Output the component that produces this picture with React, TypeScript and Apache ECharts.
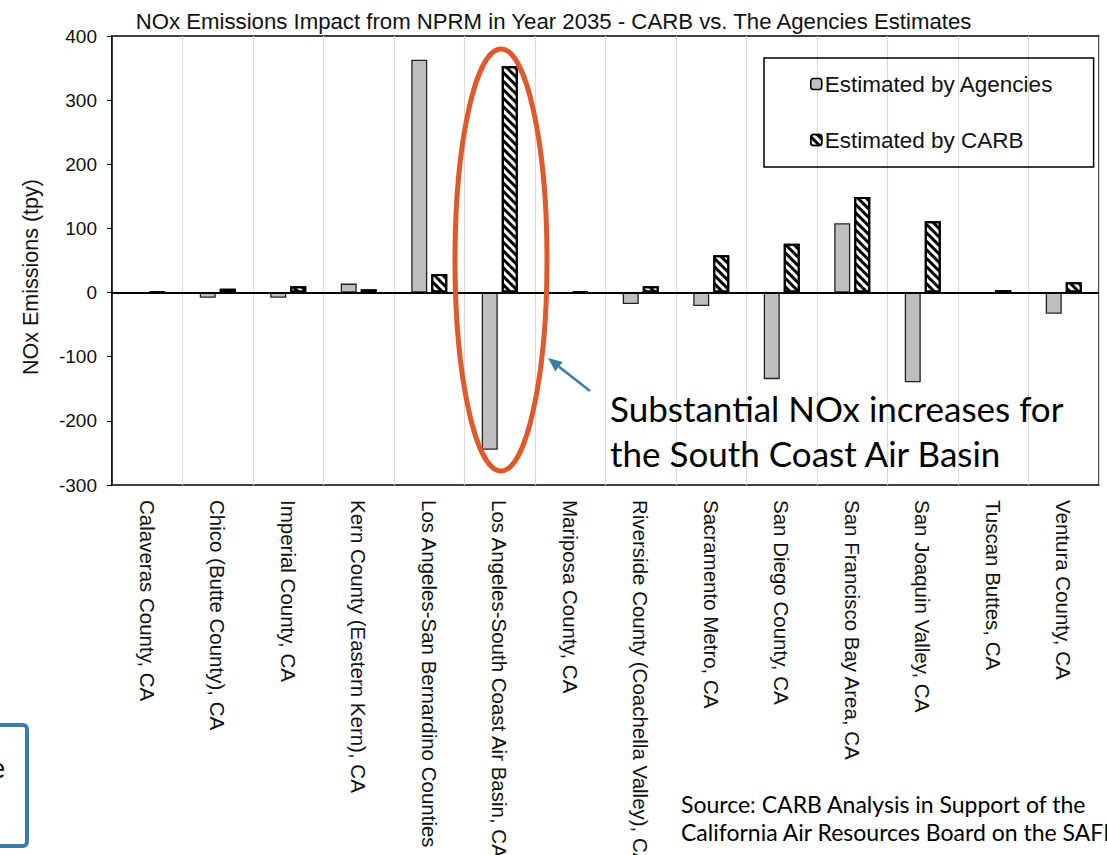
import React, { useEffect, useRef } from "react";
import * as echarts from "echarts";

const categories = [
  "Calaveras County, CA",
  "Chico (Butte County), CA",
  "Imperial County, CA",
  "Kern County (Eastern Kern), CA",
  "Los Angeles-San Bernardino Counties",
  "Los Angeles-South Coast Air Basin, CA",
  "Mariposa County, CA",
  "Riverside County (Coachella Valley), CA",
  "Sacramento Metro, CA",
  "San Diego County, CA",
  "San Francisco Bay Area, CA",
  "San Joaquin Valley, CA",
  "Tuscan Buttes, CA",
  "Ventura County, CA",
];
const agenciesValues = [-2, -8, -8, 14, 363, -245, -1, -18, -21, -135, 108, -140, 0, -33];
const carbValues = [1.5, 6, 10, 5, 29, 353, 1.5, 10, 58, 76, 149, 111, 4, 16];
const seriesNames = ["Estimated by Agencies", "Estimated by CARB"];
const yMin = -300;
const yMax = 400;
const yStep = 100;

const titleText = "NOx Emissions Impact from NPRM in Year 2035 - CARB vs. The Agencies Estimates";
const yAxisTitle = "NOx Emissions (tpy)";
const calloutText = "Substantial NOx increases for\nthe South Coast Air Basin";
const sourceText = "Source: CARB Analysis in Support of the\nCalifornia Air Resources Board on the SAFE";

const SANS = "'Liberation Sans', Arial, sans-serif";
const GILL = "Lato, 'Open Sans', sans-serif";

export default function App() {
  const ref = useRef<HTMLDivElement>(null);
  useEffect(() => {
    if (!ref.current) return;
    const chart = echarts.init(ref.current, null, { renderer: "svg" });
    const hatch = {
      symbol: "rect",
      symbolSize: 1,
      dashArrayX: [1, 0],
      dashArrayY: [3, 3],
      rotation: Math.PI / 4,
      color: "#000",
      backgroundColor: "#fff",
    };
    chart.setOption({
      animation: false,
      backgroundColor: "#fff",
      title: {
        text: titleText,
        left: "center",
        top: 5,
        textStyle: { fontFamily: SANS, fontSize: 22.2, fontWeight: "normal", color: "#111" },
      },
      legend: {
        orient: "vertical",
        left: 764,
        top: 58,
        padding: [14, 40, 15, 46],
        itemGap: 32,
        itemWidth: 11,
        itemHeight: 11,
        itemStyle: { borderColor: "#000", borderWidth: 1.5 },
        borderColor: "#000",
        borderWidth: 1.5,
        textStyle: { fontFamily: SANS, fontSize: 22.5, color: "#111", lineHeight: 24, padding: [0, 0, 0, -2] },
        data: seriesNames,
      },
      grid: {
        left: 112,
        right: 8,
        top: 36,
        bottom: 370,
        show: true,
        borderColor: "#000",
        borderWidth: 1.5,
        containLabel: false,
        outerBoundsMode: "none",
      },
      xAxis: {
        type: "category",
        data: categories,
        axisLine: { show: false, onZero: false },
        axisTick: { show: false },
        splitLine: { show: true, lineStyle: { color: "#d9d9d9", width: 1.2 } },
        axisLabel: {
          rotate: -90,
          margin: 15,
          interval: 0,
          fontFamily: SANS,
          fontSize: 20.5,
          color: "#111",
        },
      },
      yAxis: {
        type: "value",
        min: yMin,
        max: yMax,
        interval: yStep,
        axisLine: { show: true, lineStyle: { color: "#000", width: 1.5 } },
        axisTick: { show: true, length: 5, lineStyle: { color: "#000", width: 1.2 } },
        splitLine: { show: false },
        axisLabel: { margin: 15, fontFamily: SANS, fontSize: 19, color: "#111" },
      },
      series: [
        {
          name: seriesNames[0],
          type: "bar",
          data: agenciesValues,
          barWidth: 16,
          barGap: "25%",
          itemStyle: { color: "#BFBFBF", borderColor: "#222", borderWidth: 1.3 },
          markLine: {
            silent: true,
            symbol: ["none", "none"],
            label: { show: false },
            lineStyle: { color: "#000", width: 2, type: "solid" },
            data: [{ yAxis: 0 }],
          },
        },
        {
          name: seriesNames[1],
          type: "bar",
          data: carbValues,
          barWidth: 16,
          itemStyle: { color: "#fff", borderColor: "#000", borderWidth: 2, decal: hatch },
        },
      ],
      graphic: [
        {
          type: "text",
          x: 31,
          y: 277,
          rotation: Math.PI / 2,
          style: {
            text: yAxisTitle,
            font: `21.5px ${SANS}`,
            fill: "#111",
            textAlign: "center",
            textVerticalAlign: "middle",
          },
        },
        {
          type: "ellipse",
          shape: { cx: 501, cy: 260, rx: 46, ry: 211 },
          style: { fill: "none", stroke: "#E0592A", lineWidth: 5 },
          z: 100,
        },
        {
          type: "line",
          shape: { x1: 590, y1: 391, x2: 559, y2: 366.7 },
          style: { stroke: "#3B7EA3", lineWidth: 2.5 },
          z: 100,
        },
        {
          type: "polygon",
          shape: { points: [[548, 358], [562.7, 362], [555.3, 371.4]] },
          style: { fill: "#3B7EA3" },
          z: 100,
        },
        {
          type: "text",
          x: 610,
          y: 385,
          style: {
            text: calloutText,
            font: `35px ${GILL}`,
            lineHeight: 45,
            fill: "#000",
            textVerticalAlign: "top",
          },
          z: 100,
        },
        {
          type: "text",
          x: 681,
          y: 790,
          style: {
            text: sourceText,
            font: `23px ${GILL}`,
            lineHeight: 28,
            fill: "#000",
            textVerticalAlign: "top",
          },
          z: 100,
        },
        {
          type: "rect",
          shape: { x: -10, y: 725, width: 37, height: 121, r: 4 },
          style: { fill: "none", stroke: "#3A7CA5", lineWidth: 4 },
          z: 100,
        },
        {
          type: "text",
          x: 5,
          y: 767,
          style: { text: "e", font: `28px ${GILL}`, fill: "#000", textAlign: "right", textVerticalAlign: "middle" },
          z: 100,
        },
      ],
    });
    return () => chart.dispose();
  }, []);
  return (
    <div
      ref={ref}
      style={{ position: "fixed", left: 0, top: 0, width: 1107, height: 855, background: "#fff" }}
    />
  );
}
